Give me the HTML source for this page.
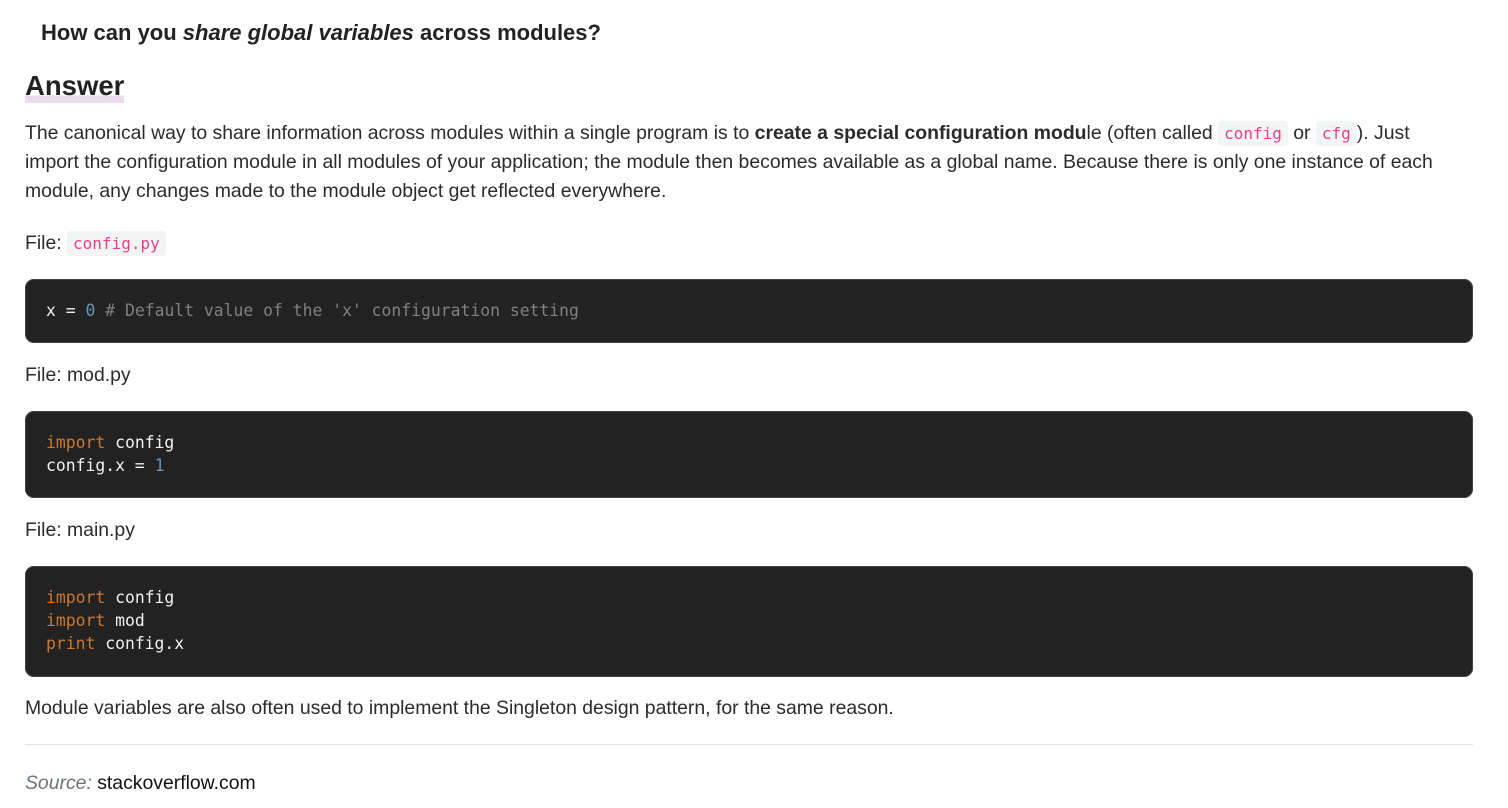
<!DOCTYPE html>
<html><head><meta charset="utf-8"><style>
html,body{margin:0;padding:0;background:#fff;width:1508px;height:808px;overflow:hidden;}
body{font-family:"Liberation Sans",sans-serif;color:#2b2b2e;position:relative;}
.a{position:absolute;white-space:nowrap;}
p{margin:0;}
.t{font-size:19.4px;line-height:29px;}
.ic{font-family:"DejaVu Sans Mono","Liberation Mono",monospace;font-size:16px;color:#e83e8c;background:#f3f4f4;border-radius:4px;padding:3px 6px;}
.code{position:absolute;left:25px;width:1448px;background:#222222;border-radius:9px;box-shadow:0 0 0 1px #444 inset;font-family:"DejaVu Sans Mono","Liberation Mono",monospace;font-size:16.4px;line-height:23px;color:#f1f1f1;white-space:pre;box-sizing:border-box;padding-left:21px;}
.k{color:#cc7832;}.n{color:#6897bb;}.c{color:#808080;}
</style></head><body>
<div class="a" style="left:41px;top:20px;font-size:22px;font-weight:bold;color:#222;">How can you <i>share global variables</i> across modules?</div>
<div class="a" style="left:25px;top:69px;font-size:27.5px;font-weight:bold;color:#222;line-height:34px;background:linear-gradient(transparent 78%,#eadcec 78%);">Answer</div>
<div class="a t" style="left:25px;top:119px;">The canonical way to share information across modules within a single program is to <b>create a special configuration modu</b>le (often called <span class="ic">config</span> or <span class="ic">cfg</span>). Just<br>import the configuration module in all modules of your application; the module then becomes available as a global name. Because there is only one instance of each<br>module, any changes made to the module object get reflected everywhere.</div>
<div class="a t" style="left:25px;top:229px;">File: <span class="ic">config.py</span></div>
<div class="code" style="top:279px;height:64px;padding-top:20px;">x = <span class="n">0</span> <span class="c"># Default value of the 'x' configuration setting</span></div>
<div class="a t" style="left:25px;top:361px;">File: mod.py</div>
<div class="code" style="top:411px;height:87px;padding-top:20px;"><span class="k">import</span> config
config.x = <span class="n">1</span></div>
<div class="a t" style="left:25px;top:516px;">File: main.py</div>
<div class="code" style="top:566px;height:111px;padding-top:20px;"><span class="k">import</span> config
<span class="k">import</span> mod
<span class="k">print</span> config.x</div>
<div class="a t" style="left:25px;top:694px;">Module variables are also often used to implement the Singleton design pattern, for the same reason.</div>
<div class="a" style="left:25px;top:744px;width:1448px;height:1px;background:#e2e2e2;"></div>
<div class="a t" style="left:25px;top:769px;color:#111;"><i style="color:#6c737b;">Source:</i> stackoverflow.com</div>
</body></html>
